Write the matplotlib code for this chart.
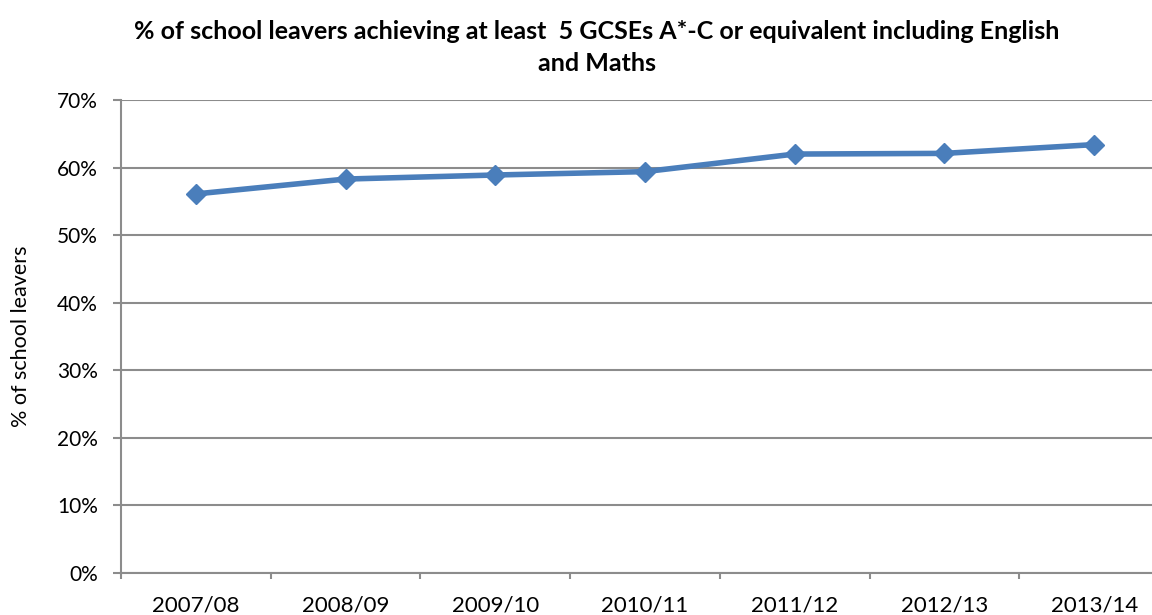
import matplotlib
matplotlib.use("Agg")
import matplotlib.pyplot as plt
from matplotlib.ticker import FixedLocator, FuncFormatter

years = ["2007/08", "2008/09", "2009/10", "2010/11", "2011/12", "2012/13", "2013/14"]
values = [56.1, 58.3, 58.9, 59.4, 62.0, 62.1, 63.4]
yticks = [0, 10, 20, 30, 40, 50, 60, 70]

plt.rcParams['font.family'] = ['Lato', 'DejaVu Sans']

W, H = 1152, 615
fig = plt.figure(figsize=(W / 100, H / 100), dpi=100)
left, right, top, bottom = 121, 1169, 100, 573
ax = fig.add_axes([left / W, 1 - bottom / H, (right - left) / W, (bottom - top) / H])

x = list(range(len(years)))
ax.plot(x, values, color="#4a7ebb", lw=4, marker="D", ms=10.5, mec="#4a7ebb", mfc="#4a7ebb", zorder=3)

ax.set_xlim(-0.5, len(years) - 0.5)
ax.set_ylim(0, 70)
ax.set_yticks(yticks)
ax.yaxis.set_major_formatter(FuncFormatter(lambda v, p: f"{int(v)}%"))
ax.grid(axis="y", color="#8c8c8c", lw=1.5, zorder=0)
ax.set_axisbelow(True)

ax.set_xticks(x)
ax.set_xticklabels(years)
ax.xaxis.set_minor_locator(FixedLocator([i - 0.5 for i in range(len(years) + 1)]))
ax.tick_params(axis="x", which="major", length=0, labelsize=16, pad=16)
ax.tick_params(axis="x", which="minor", length=4.5, width=1.5, color="#8c8c8c", direction="out")
ax.tick_params(axis="y", length=6, width=1.5, color="#8c8c8c", labelsize=15, pad=10.5)

for s in ["top", "right"]:
    ax.spines[s].set_visible(False)
for s in ["left", "bottom"]:
    ax.spines[s].set_color("#8c8c8c")
    ax.spines[s].set_linewidth(1.5)

ax.set_ylabel("% of school leavers", fontsize=15.5)
ax.yaxis.set_label_coords((31 - left) / (right - left), 0.5)

fig.text(597 / W, 1 - 47.5 / H,
         "% of school leavers achieving at least  5 GCSEs A*-C or equivalent including English\nand Maths",
         ha="center", va="center", fontsize=18, fontweight="bold", linespacing=1.45)

fig.savefig("out.png", dpi=100)
